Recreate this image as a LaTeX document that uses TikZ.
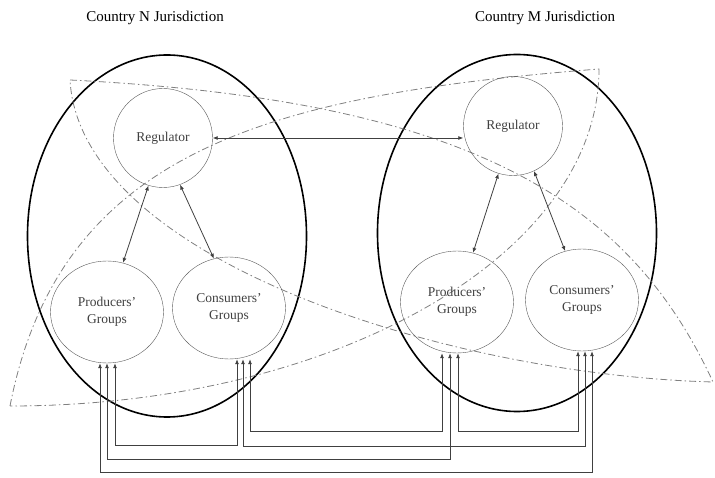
\documentclass[tikz,border=0pt]{standalone}
\usepackage{fontspec}
\setmainfont{Liberation Serif}
\usetikzlibrary{shapes.geometric, arrows.meta}
\tikzstyle{juris}=[draw, ellipse, line width=1.6pt, inner sep=0pt, minimum width=279pt]
\tikzstyle{reg}=[draw=black!65, circle, minimum size=99pt, inner sep=0pt, text=black!75, font=\fontsize{13.5}{15}\selectfont]
\tikzstyle{grp}=[draw=black!65, ellipse, minimum width=113pt, minimum height=102pt, inner sep=0pt, align=center, text=black!75, font=\fontsize{13.5}{17}\selectfont]
\tikzstyle{link}=[<->, draw=black!75, line width=0.8pt]
\tikzstyle{overlap}=[draw=black!50, line width=0.8pt, dash pattern=on 7pt off 3pt on 1.5pt off 3pt]

\begin{document}
\begin{tikzpicture}[x=1pt,y=-1pt,>={Latex[length=5pt,width=4pt]}]
  \useasboundingbox (0,0) rectangle (715,478);
  \node[font=\fontsize{15}{18}\selectfont] (ttln) at (155,18) {Country N Jurisdiction};
  \node[font=\fontsize{15}{18}\selectfont] (ttlm) at (545,18) {Country M Jurisdiction};
  % the two jurisdictions
  \node[juris, minimum height=362pt] (jn) at (167,236) {};
  \node[juris, minimum height=357pt] (jm) at (517,233) {};
  % overlapping areas
  \draw[overlap] (70,80) .. controls (470,100) and (629,200) .. (713,382)
    .. controls (450,375) and (80,260) .. (70,80);
  \draw[overlap] (10,406) .. controls (60,150) and (269,95) .. (599,69)
    .. controls (599,255) and (335,406) .. (10,406);
  % country N
  \node[reg] (lr) at (163,138) {Regulator};
  \node[grp] (lp) at (107,312) {Producers'\\Groups};
  \node[grp] (lc) at (229,308) {Consumers'\\Groups};
  % country M
  \node[reg] (rr) at (513,126) {Regulator};
  \node[grp] (rp) at (457,302) {Producers'\\Groups};
  \node[grp] (rc) at (582,300) {Consumers'\\Groups};
  \draw[link] (lr.east) -- (lr.east -| rr.west);
  \draw[link] (lr.253) -- (lp.72);
  \draw[link] (lr.290) -- (lc.107);
  \draw[link] (rr.253) -- (rp.72);
  \draw[link] (rr.295) -- (rc.109);
  % links between groups
  \draw[link] ([xshift=21pt]lc.south) -- ++(0,72) -| ([xshift=-15pt]rp.south);
  \draw[link] ([xshift=1pt]rp.south) -- ++(0,78) -| ([xshift=-4pt]rc.south);
  \draw[link] ([xshift=8pt]lp.south) -- ++(0,82) -| ([xshift=8pt]lc.south);
  \draw[link] ([xshift=14pt]lc.south) -- ++(0,87) -| ([xshift=3pt]rc.south);
  \draw[link] (lp.south) -- ++(0,96) -| ([xshift=-7pt]rp.south);
  \draw[link] ([xshift=-7pt]lp.south) -- ++(0,109) -| ([xshift=10pt]rc.south);
\end{tikzpicture}
\end{document}
